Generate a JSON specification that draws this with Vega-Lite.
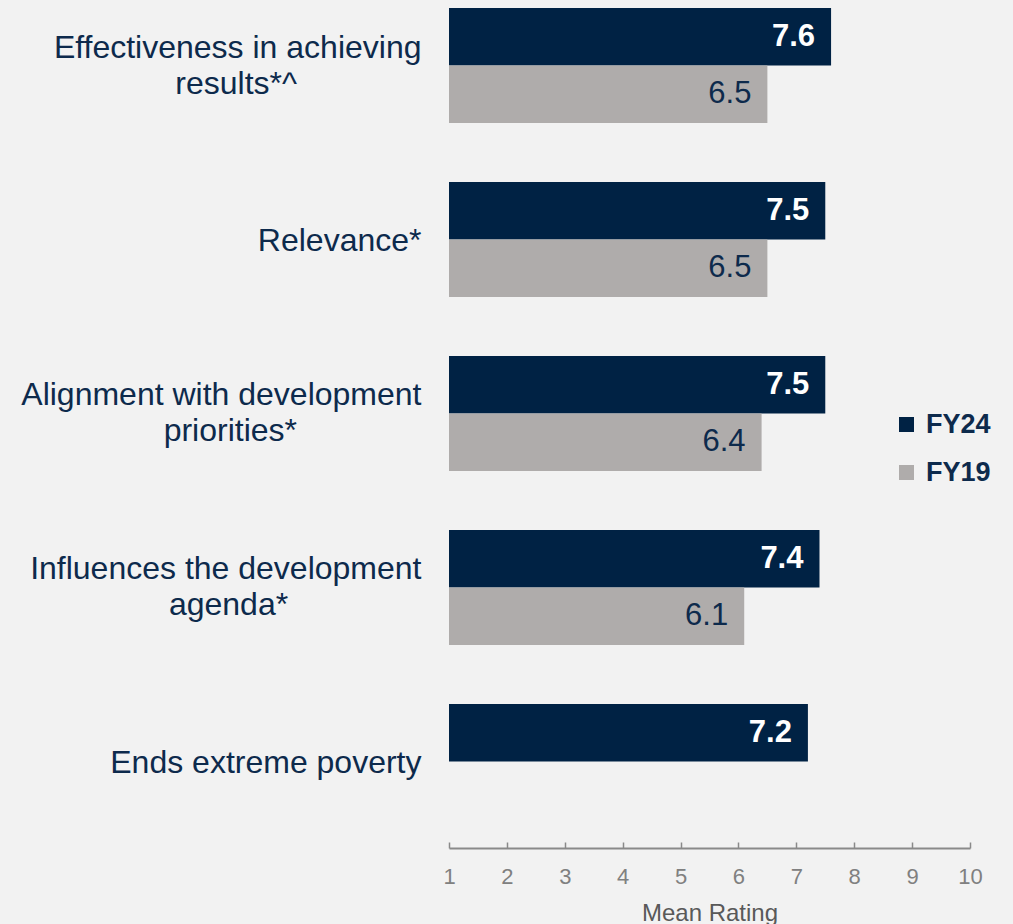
{
  "$schema": "https://vega.github.io/schema/vega-lite/v6.json",
  "width": 521,
  "height": 848,
  "autosize": {"type": "none"},
  "padding": {"left": 449, "top": 0, "right": 43, "bottom": 76},
  "background": "#f2f2f2",
  "config": {"view": {"stroke": null}, "font": "Liberation Sans"},
  "data": {
    "values": [
      {"cat": "Effectiveness in achieving|results*^\u00a0\u00a0\u00a0\u00a0\u00a0\u00a0\u00a0\u00a0\u00a0\u00a0\u00a0\u00a0\u00a0\u00a0\u200b", "order": 1, "series": "FY24", "value": 7.6},
      {"cat": "Effectiveness in achieving|results*^\u00a0\u00a0\u00a0\u00a0\u00a0\u00a0\u00a0\u00a0\u00a0\u00a0\u00a0\u00a0\u00a0\u00a0\u200b", "order": 1, "series": "FY19", "value": 6.5},
      {"cat": "Relevance*", "order": 2, "series": "FY24", "value": 7.5},
      {"cat": "Relevance*", "order": 2, "series": "FY19", "value": 6.5},
      {"cat": "Alignment with development|priorities*\u00a0\u00a0\u00a0\u00a0\u00a0\u00a0\u00a0\u00a0\u00a0\u00a0\u00a0\u00a0\u00a0\u00a0\u200b", "order": 3, "series": "FY24", "value": 7.5},
      {"cat": "Alignment with development|priorities*\u00a0\u00a0\u00a0\u00a0\u00a0\u00a0\u00a0\u00a0\u00a0\u00a0\u00a0\u00a0\u00a0\u00a0\u200b", "order": 3, "series": "FY19", "value": 6.4},
      {"cat": "Influences the development|agenda*\u00a0\u00a0\u00a0\u00a0\u00a0\u00a0\u00a0\u00a0\u00a0\u00a0\u00a0\u00a0\u00a0\u00a0\u00a0\u200b", "order": 4, "series": "FY24", "value": 7.4},
      {"cat": "Influences the development|agenda*\u00a0\u00a0\u00a0\u00a0\u00a0\u00a0\u00a0\u00a0\u00a0\u00a0\u00a0\u00a0\u00a0\u00a0\u00a0\u200b", "order": 4, "series": "FY19", "value": 6.1},
      {"cat": "Ends extreme poverty", "order": 5, "series": "FY24", "value": 7.2}
    ]
  },
  "encoding": {
    "y": {
      "field": "cat",
      "type": "nominal",
      "sort": {"field": "order"},
      "scale": {"paddingInner": 0.339, "paddingOuter": 0.1064, "align": 0.216},
      "axis": {
        "title": null,
        "labelAlign": "right",
        "labelPadding": 28,
        "ticks": false,
        "domain": false,
        "labelFontSize": 32,
        "labelLineHeight": 36,
        "labelColor": "#0d2a4c",
        "labelLimit": 600,
        "labelOffset": {"condition": {"test": "indexof(datum.label, '|') >= 0", "value": -18}, "value": 2},
        "labelExpr": "split(datum.label, '|')"
      }
    },
    "yOffset": {
      "field": "series",
      "type": "nominal",
      "scale": {"domain": ["FY24", "FY19"], "paddingInner": 0, "paddingOuter": 0}
    }
  },
  "layer": [
    {
      "mark": {"type": "bar"},
      "encoding": {
        "x": {
          "field": "value",
          "type": "quantitative",
          "scale": {"domain": [1, 10], "zero": false, "nice": false},
          "axis": {
            "values": [1, 2, 3, 4, 5, 6, 7, 8, 9, 10],
            "format": "d",
            "title": "Mean Rating",
            "grid": false,
            "domainColor": "#8a8a8a",
            "domainWidth": 2,
            "tickColor": "#8a8a8a",
            "tickWidth": 1.5,
            "tickSize": -6,
            "labelFontSize": 22,
            "labelColor": "#808080",
            "labelPadding": 24,
            "labelFlush": false,
            "titleFontSize": 24,
            "titleColor": "#595959",
            "titleFontWeight": "normal",
            "titlePadding": 14
          }
        },
        "x2": {"datum": 1},
        "color": {
          "field": "series",
          "type": "nominal",
          "scale": {"domain": ["FY24", "FY19"], "range": ["#002244", "#afacab"]},
          "legend": {
            "orient": "none",
            "legendX": 444,
            "legendY": 411,
            "title": null,
            "symbolType": "square",
            "symbolSize": 225,
            "symbolStrokeWidth": 0,
            "labelFontSize": 27,
            "labelFontWeight": "bold",
            "labelColor": "#0d2a4c",
            "labelOffset": 6,
            "rowPadding": 20
          }
        }
      }
    },
    {
      "transform": [{"filter": "datum.series == 'FY24'"}],
      "mark": {"type": "text", "align": "right", "baseline": "middle", "dx": -16, "fontSize": 31, "fontWeight": "bold", "color": "#ffffff"},
      "encoding": {
        "x": {"field": "value", "type": "quantitative"},
        "text": {"field": "value", "type": "quantitative", "format": ".1f"}
      }
    },
    {
      "transform": [{"filter": "datum.series == 'FY19'"}],
      "mark": {"type": "text", "align": "right", "baseline": "middle", "dx": -16, "fontSize": 31, "color": "#0d2a4c"},
      "encoding": {
        "x": {"field": "value", "type": "quantitative"},
        "text": {"field": "value", "type": "quantitative", "format": ".1f"}
      }
    }
  ]
}
